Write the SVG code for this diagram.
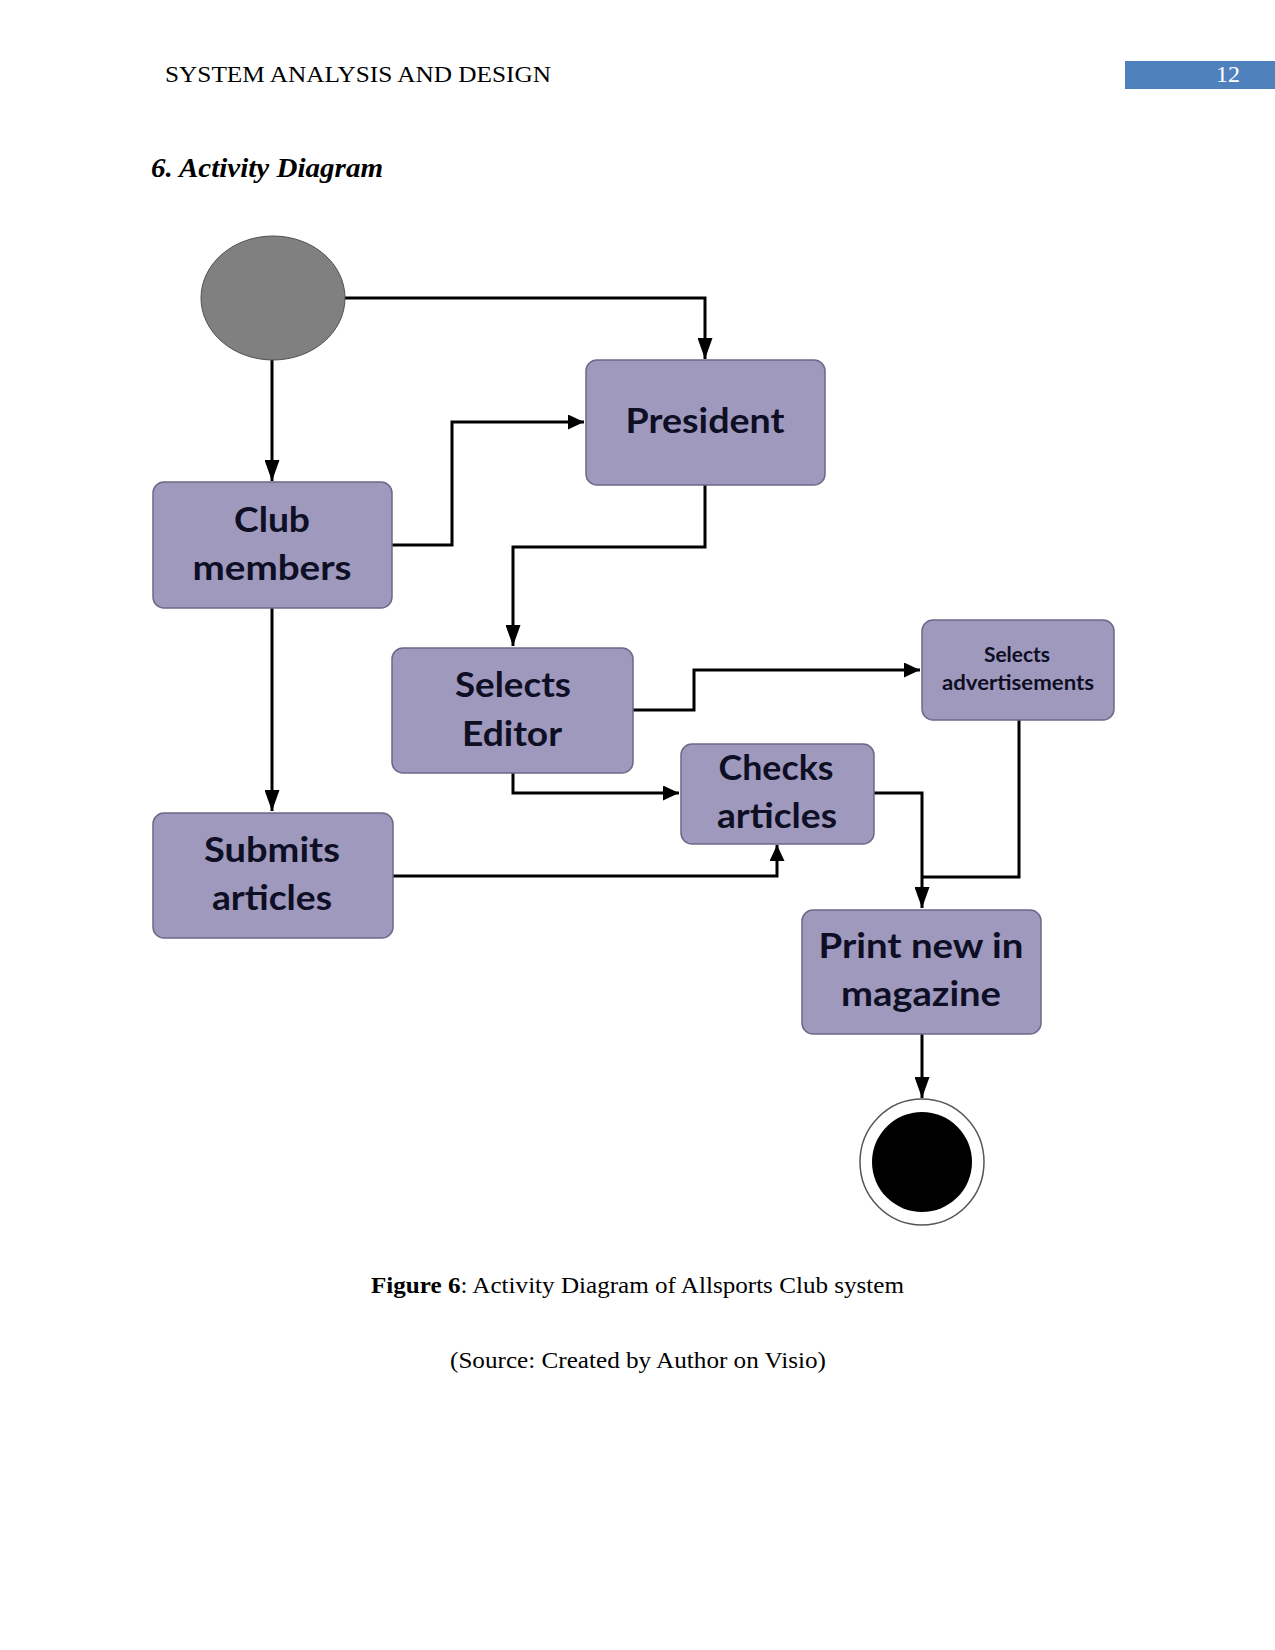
<svg xmlns="http://www.w3.org/2000/svg" width="1275" height="1650" viewBox="0 0 1275 1650">
<style>
.hdr{font-family:"Liberation Serif",serif;font-size:24px;fill:#000}
.cap{font-family:"Liberation Serif",serif;font-size:24px;fill:#000}
.box{fill:#9e99bd;stroke:#6c6888;stroke-width:1.5}
.lbl{font-family:Lato,"Open Sans",sans-serif;font-weight:700;font-size:35px;fill:#0e0e24;text-anchor:middle}
.sm{font-size:21px}
.conn{fill:none;stroke:#000;stroke-width:3}
</style>
<defs>
<marker id="arrH" markerUnits="userSpaceOnUse" markerWidth="16" markerHeight="15" refX="16" refY="7.5" orient="auto">
<path d="M0,0 L16,7.5 L0,15 z" fill="#000"/>
</marker>
<marker id="arrV" markerUnits="userSpaceOnUse" markerWidth="21" markerHeight="15" refX="21" refY="7.5" orient="auto">
<path d="M0,0 L21,7.5 L0,15 z" fill="#000"/>
</marker>
</defs>
<rect width="1275" height="1650" fill="#fff"/>
<g id="header">
<text class="hdr" x="165" y="82" textLength="386" lengthAdjust="spacingAndGlyphs">SYSTEM ANALYSIS AND DESIGN</text>
<rect x="1125" y="61" width="150" height="28" fill="#4f81bd"/>
<text class="hdr" x="1216" y="82" style="fill:#fff">12</text>
</g>
<text x="151" y="177" font-family="Liberation Serif,serif" font-weight="700" font-style="italic" font-size="27" textLength="232" lengthAdjust="spacingAndGlyphs">6. Activity Diagram</text>
<g id="connectors">
<path class="conn" d="M345,298 H705 V359" marker-end="url(#arrV)"/>
<path class="conn" d="M272,360 V481" marker-end="url(#arrV)"/>
<path class="conn" d="M392,545 H452 V422 H584" marker-end="url(#arrH)"/>
<path class="conn" d="M705,485 V547 H513 V646" marker-end="url(#arrV)"/>
<path class="conn" d="M633,710 H694 V670 H920" marker-end="url(#arrH)"/>
<path class="conn" d="M513,773 V793 H679" marker-end="url(#arrH)"/>
<path class="conn" d="M272,608 V811" marker-end="url(#arrV)"/>
<path class="conn" d="M392,876 H777 V845" marker-end="url(#arrH)"/>
<path class="conn" d="M874,793 H922 V908" marker-end="url(#arrV)"/>
<path class="conn" d="M1019,720 V877 H922"/>
<path class="conn" d="M922,1034 V1098" marker-end="url(#arrV)"/>
</g>
<g id="start">
<ellipse cx="273" cy="298" rx="72" ry="62" fill="#808080" stroke="#505050" stroke-width="1"/>
</g>
<g id="president">
<rect class="box" x="586" y="360" width="239" height="125" rx="11"/>
<text class="lbl" x="705" y="433" textLength="159" lengthAdjust="spacingAndGlyphs">President</text>
</g>
<g id="club-members">
<rect class="box" x="153" y="482" width="239" height="126" rx="11"/>
<text class="lbl" x="272" y="532" textLength="76" lengthAdjust="spacingAndGlyphs">Club</text>
<text class="lbl" x="272" y="580" textLength="159" lengthAdjust="spacingAndGlyphs">members</text>
</g>
<g id="selects-editor">
<rect class="box" x="392" y="648" width="241" height="125" rx="11"/>
<text class="lbl" x="513" y="697" textLength="116" lengthAdjust="spacingAndGlyphs">Selects</text>
<text class="lbl" x="512" y="746" textLength="100" lengthAdjust="spacingAndGlyphs">Editor</text>
</g>
<g id="selects-advertisements">
<rect class="box" x="922" y="620" width="192" height="100" rx="11"/>
<text class="lbl sm" x="1017" y="662" textLength="66" lengthAdjust="spacingAndGlyphs">Selects</text>
<text class="lbl sm" x="1018" y="690" textLength="152" lengthAdjust="spacingAndGlyphs">advertisements</text>
</g>
<g id="checks-articles">
<rect class="box" x="681" y="744" width="193" height="100" rx="11"/>
<text class="lbl" x="776" y="780" textLength="115" lengthAdjust="spacingAndGlyphs">Checks</text>
<text class="lbl" x="777" y="828" textLength="120" lengthAdjust="spacingAndGlyphs">articles</text>
</g>
<g id="submits-articles">
<rect class="box" x="153" y="813" width="240" height="125" rx="11"/>
<text class="lbl" x="272" y="862" textLength="136" lengthAdjust="spacingAndGlyphs">Submits</text>
<text class="lbl" x="272" y="910" textLength="120" lengthAdjust="spacingAndGlyphs">articles</text>
</g>
<g id="print-magazine">
<rect class="box" x="802" y="910" width="239" height="124" rx="11"/>
<text class="lbl" x="921" y="958" textLength="205" lengthAdjust="spacingAndGlyphs">Print new in</text>
<text class="lbl" x="921" y="1006" textLength="160" lengthAdjust="spacingAndGlyphs">magazine</text>
</g>
<g id="end">
<ellipse cx="922" cy="1162" rx="62" ry="63" fill="#fff" stroke="#555" stroke-width="1.5"/>
<circle cx="922" cy="1162" r="50" fill="#000"/>
</g>
<g id="caption">
<text class="cap" x="371" y="1293" textLength="533" lengthAdjust="spacingAndGlyphs"><tspan font-weight="700">Figure 6</tspan>: Activity Diagram of Allsports Club system</text>
<text class="cap" x="450" y="1368" textLength="376" lengthAdjust="spacingAndGlyphs">(Source: Created by Author on Visio)</text>
</g>
</svg>
